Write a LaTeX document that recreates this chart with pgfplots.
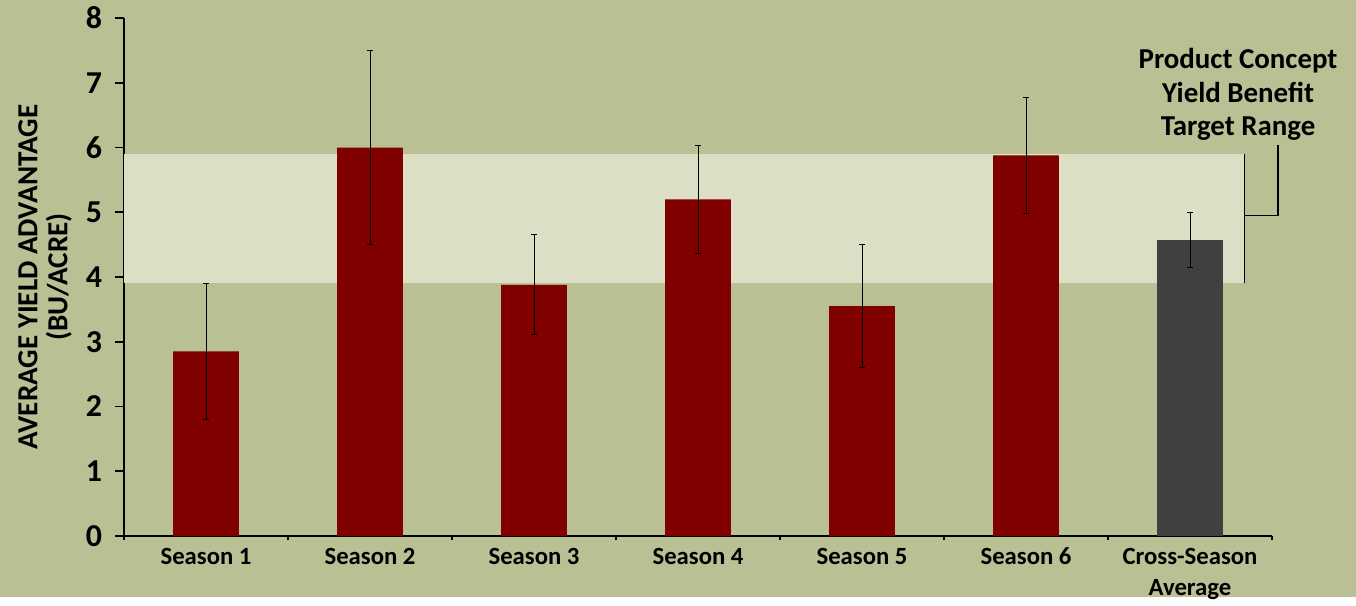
\documentclass[border=0pt]{standalone}
\usepackage{fontspec}
\setmainfont{Carlito}
\usepackage{pgfplots}
\pgfplotsset{compat=1.18}
\definecolor{bg}{HTML}{B8C094}
\definecolor{band}{HTML}{DCDEC5}
\definecolor{barred}{HTML}{800000}
\definecolor{bargray}{HTML}{404040}
\begin{document}
\begin{tikzpicture}
% page background, 1px of the reference = 0.5bp
\fill[bg] (-62bp,-30.5bp) rectangle (616bp,268bp);
\begin{axis}[
    at={(0,0)}, anchor=south west,
    scale only axis, width=574bp, height=259bp,
    xmin=-0.5, xmax=6.5, ymin=0, ymax=8,
    clip=false,
    axis lines=left,
    axis line style={-, black, line width=1bp},
    tick align=outside,
    major tick length=4.5bp,
    tick style={black, line width=0.8bp},
    ytick={0,...,8},
    xtick={-0.5,0.5,...,6.5},
    x tick label as interval,
    xticklabels={Season 1,Season 2,Season 3,Season 4,Season 5,Season 6,{Cross-Season\\Average},{}},
    x tick style={/pgfplots/major tick length=2bp},
    /pgf/number format/assume math mode=true,
    yticklabel style={font=\bfseries\fontsize{16}{16}\selectfont, xshift=-3bp},
    xticklabel style={font=\bfseries\fontsize{12.4}{15.5}\selectfont, align=center, yshift=2bp},
    every axis y label/.style={at={(axis description cs:0,0.5)}, xshift=-39.5bp,
        rotate=90, anchor=center, align=center,
        font=\bfseries\fontsize{14.6}{15}\selectfont},
    ylabel={AVERAGE YIELD ADVANTAGE\\(BU/ACRE)},
]
% target range band
\addplot[fill=band, draw=none, forget plot] coordinates {(-0.5,3.9) (6.33,3.9) (6.33,5.9) (-0.5,5.9)} -- cycle;

\addplot[ybar, bar width=0.4, bar shift=0, fill=barred, draw=none,
    error bars/.cd, y dir=both, y explicit,
    error bar style={black, line width=0.5bp},
    error mark options={black, rotate=90, mark size=1.5bp, line width=0.5bp}]
    coordinates {(0,2.85) +- (0,1.05) (1,6.0) +- (0,1.5) (2,3.88) +- (0,0.77)
                 (3,5.2) +- (0,0.83) (4,3.55) +- (0,0.95) (5,5.88) +- (0,0.9)};

\addplot[ybar, bar width=0.4, bar shift=0, fill=bargray, draw=none,
    error bars/.cd, y dir=both, y explicit,
    error bar style={black, line width=0.5bp},
    error mark options={black, rotate=90, mark size=1.5bp, line width=0.5bp}]
    coordinates {(6,4.57) +- (0,0.42)};

% bracket and its note
\draw[black, line width=0.6bp] (axis cs:6.33,3.9) -- (axis cs:6.33,5.9);
\draw[black, line width=0.6bp] (axis cs:6.33,4.95) -- (axis cs:6.537,4.95) -- (axis cs:6.537,6.04);
\node[align=center, font=\bfseries\fontsize{14.5}{17}\selectfont]
    at (axis cs:6.293,6.82) {Product Concept\\Yield Benefit\\Target Range};
\end{axis}
\end{tikzpicture}
\end{document}
